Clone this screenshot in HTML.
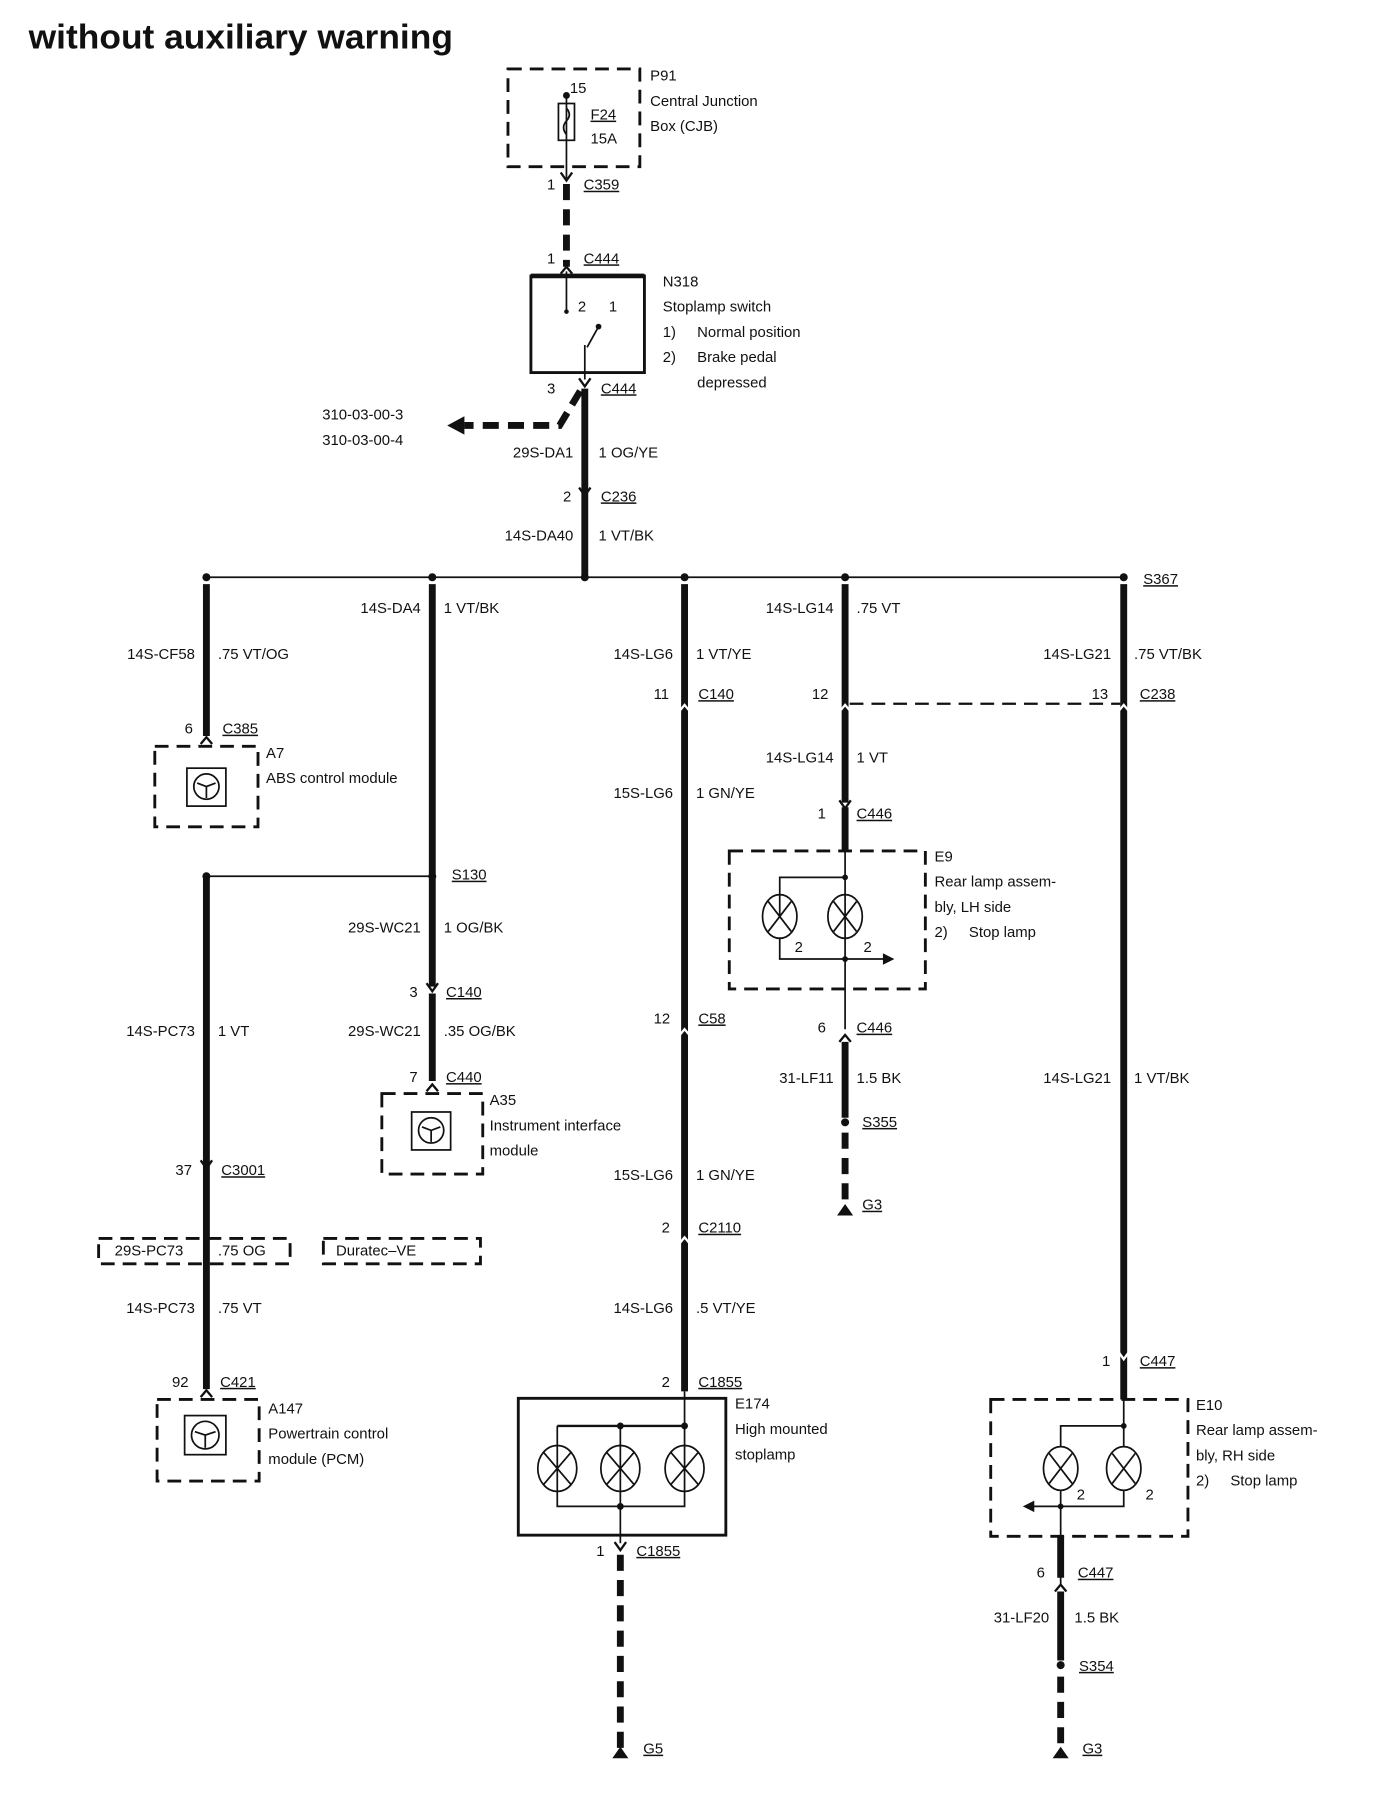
<!DOCTYPE html>
<html><head><meta charset="utf-8"><style>
html,body{margin:0;padding:0;background:#fff}
svg{display:block}
text{font-family:"Liberation Sans",sans-serif;font-size:13px;fill:#111}
.u{text-decoration:underline}
.r{text-anchor:end}
.th{stroke:#111;stroke-width:6;fill:none}
.td{stroke:#111;stroke-width:6;fill:none;stroke-dasharray:14 8}
.tn{stroke:#111;stroke-width:1.5;fill:none}
.bx{stroke:#111;stroke-width:2.5;fill:none;stroke-dasharray:12 7}
.sb{stroke:#111;stroke-width:2.5;fill:none}
.cn{stroke:#111;stroke-width:2;fill:none}
</style></head><body>
<svg width="1376" height="1810" viewBox="0 0 1200 1574" preserveAspectRatio="none" xmlns="http://www.w3.org/2000/svg">
<text x="25" y="42" style="font-size:30px;font-weight:bold" textLength="370" lengthAdjust="spacingAndGlyphs">without auxiliary warning</text>

<!-- P91 -->
<rect x="443" y="60" width="115" height="85" class="bx"/>
<circle cx="494" cy="83" r="3" fill="#111"/>
<text x="497" y="81">15</text>
<line x1="494" y1="83" x2="494" y2="155" class="tn"/>
<rect x="487" y="90" width="14" height="32" class="tn" fill="#fff"/>
<path d="M494 94 q5 6 0 11 q-5 6 0 12" class="tn"/>
<text x="515" y="104" class="u">F24</text><text x="515" y="125">15A</text>
<text x="567" y="70">P91</text><text x="567" y="92">Central Junction</text><text x="567" y="114">Box (CJB)</text>
<path d="M489 150 L494 157 L499 150" class="cn"/>
<text x="477" y="165">1</text><text x="509" y="165" class="u">C359</text>
<line x1="494" y1="160" x2="494" y2="232" class="td"/>
<path d="M489 238 L494 232 L499 238" class="cn"/>
<text x="477" y="229">1</text><text x="509" y="229" class="u">C444</text>

<!-- N318 -->
<rect x="463" y="240" width="99" height="84" class="sb"/>
<line x1="463" y1="240" x2="562" y2="240" stroke="#111" stroke-width="4"/>
<line x1="494" y1="236" x2="494" y2="270" class="tn"/>
<circle cx="494" cy="271" r="2" fill="#111"/>
<text x="504" y="271">2</text><text x="531" y="271">1</text>
<circle cx="522" cy="284" r="2.5" fill="#111"/>
<line x1="522" y1="284" x2="512" y2="302" class="tn"/>
<line x1="510" y1="300" x2="510" y2="330" class="tn"/>
<text x="578" y="249">N318</text><text x="578" y="271">Stoplamp switch</text>
<text x="578" y="293">1)</text><text x="608" y="293">Normal position</text>
<text x="578" y="315">2)</text><text x="608" y="315">Brake pedal</text><text x="608" y="337">depressed</text>
<path d="M505 329 L510 336 L515 329" class="cn"/>
<text x="477" y="342">3</text><text x="524" y="342" class="u">C444</text>
<line x1="510" y1="338" x2="510" y2="500" class="th"/>
<path d="M506 340 L488 370 L405 370" class="td"/>
<path d="M390 370 L405 362 L405 378 Z" fill="#111"/>
<text x="281" y="365">310-03-00-3</text><text x="281" y="387">310-03-00-4</text>
<text x="500" y="398" class="r">29S-DA1</text><text x="522" y="398">1 OG/YE</text>
<path d="M505 424 L510 431 L515 424" class="cn"/>
<text x="491" y="436">2</text><text x="524" y="436" class="u">C236</text>
<text x="500" y="470" class="r">14S-DA40</text><text x="522" y="470">1 VT/BK</text>

<!-- bus -->
<line x1="180" y1="502" x2="980" y2="502" class="tn"/>
<g fill="#111"><circle cx="180" cy="502" r="3.5"/><circle cx="377" cy="502" r="3.5"/><circle cx="510" cy="502" r="3.5"/><circle cx="597" cy="502" r="3.5"/><circle cx="737" cy="502" r="3.5"/><circle cx="980" cy="502" r="3.5"/></g>
<text x="997" y="508" class="u">S367</text>

<!-- col 180 top -->
<line x1="180" y1="508" x2="180" y2="640" class="th"/>
<text x="170" y="573" class="r">14S-CF58</text><text x="190" y="573">.75 VT/OG</text>
<text x="161" y="638">6</text><text x="194" y="638" class="u">C385</text>
<path d="M175 647 L180 641 L185 647" class="cn"/>
<rect x="135" y="649" width="90" height="70" class="bx"/>
<rect x="163" y="668" width="34" height="33" class="tn"/>
<circle cx="180" cy="684" r="11" class="tn"/><path d="M172 681 L180 684 L188 681 M180 684 L180 694" class="tn"/>
<text x="232" y="659">A7</text><text x="232" y="681">ABS control module</text>

<!-- col 377 -->
<line x1="377" y1="508" x2="377" y2="760" class="th"/>
<text x="367" y="533" class="r">14S-DA4</text><text x="387" y="533">1 VT/BK</text>
<circle cx="377" cy="762" r="3.5" fill="#111"/><circle cx="180" cy="762" r="3.5" fill="#111"/>
<line x1="180" y1="762" x2="377" y2="762" class="tn"/>
<text x="394" y="765" class="u">S130</text>
<line x1="377" y1="764" x2="377" y2="858" class="th"/>
<text x="367" y="811" class="r">29S-WC21</text><text x="387" y="811">1 OG/BK</text>
<path d="M372 855 L377 862 L382 855" class="cn"/>
<text x="357" y="867">3</text><text x="389" y="867" class="u">C140</text>
<line x1="377" y1="864" x2="377" y2="940" class="th"/>
<text x="367" y="901" class="r">29S-WC21</text><text x="387" y="901">.35 OG/BK</text>
<text x="357" y="941">7</text><text x="389" y="941" class="u">C440</text>
<path d="M372 949 L377 943 L382 949" class="cn"/>
<rect x="333" y="951" width="88" height="70" class="bx"/>
<rect x="359" y="967" width="34" height="33" class="tn"/>
<circle cx="376" cy="983" r="11" class="tn"/><path d="M368 980 L376 983 L384 980 M376 983 L376 993" class="tn"/>
<text x="427" y="961">A35</text><text x="427" y="983">Instrument interface</text><text x="427" y="1005">module</text>

<!-- col 180 lower -->
<line x1="180" y1="764" x2="180" y2="1208" class="th"/>
<text x="170" y="901" class="r">14S-PC73</text><text x="190" y="901">1 VT</text>
<path d="M175 1009 L180 1016 L185 1009" class="cn"/>
<text x="153" y="1022">37</text><text x="193" y="1022" class="u">C3001</text>
<rect x="86" y="1077" width="167" height="22" class="bx" stroke-width="2"/>
<text x="100" y="1092">29S-PC73</text><text x="190" y="1092">.75 OG</text>
<rect x="282" y="1077" width="137" height="22" class="bx" stroke-width="2"/>
<text x="293" y="1092">Duratec–VE</text>
<text x="170" y="1142" class="r">14S-PC73</text><text x="190" y="1142">.75 VT</text>
<text x="150" y="1206">92</text><text x="192" y="1206" class="u">C421</text>
<path d="M175 1215 L180 1209 L185 1215" class="cn"/>
<rect x="137" y="1217" width="89" height="71" class="bx"/>
<rect x="161" y="1231" width="36" height="34" class="tn"/>
<circle cx="179" cy="1248" r="12" class="tn"/><path d="M170 1245 L179 1248 L188 1245 M179 1248 L179 1259" class="tn"/>
<text x="234" y="1229">A147</text><text x="234" y="1251">Powertrain control</text><text x="234" y="1273">module (PCM)</text>

<!-- col 597 -->
<line x1="597" y1="508" x2="597" y2="1210" class="th"/>
<text x="587" y="573" class="r">14S-LG6</text><text x="607" y="573">1 VT/YE</text>
<text x="570" y="608">11</text><text x="609" y="608" class="u">C140</text>
<path d="M592 619 L597 613 L602 619" stroke="#fff" stroke-width="2" fill="none"/>
<text x="587" y="694" class="r">15S-LG6</text><text x="607" y="694">1 GN/YE</text>
<text x="570" y="890">12</text><text x="609" y="890" class="u">C58</text>
<path d="M592 901 L597 895 L602 901" stroke="#fff" stroke-width="2" fill="none"/>
<text x="587" y="1026" class="r">15S-LG6</text><text x="607" y="1026">1 GN/YE</text>
<text x="577" y="1072">2</text><text x="609" y="1072" class="u">C2110</text>
<path d="M592 1082 L597 1076 L602 1082" stroke="#fff" stroke-width="2" fill="none"/>
<text x="587" y="1142" class="r">14S-LG6</text><text x="607" y="1142">.5 VT/YE</text>
<text x="577" y="1206">2</text><text x="609" y="1206" class="u">C1855</text>
<rect x="452" y="1216" width="181" height="119" class="sb"/>
<line x1="597" y1="1210" x2="597" y2="1240" class="tn"/>
<path d="M486 1240 L597 1240" stroke="#111" stroke-width="2"/>
<path d="M486 1240 V1310 H597 V1240 M541 1240 V1310" class="tn"/>
<g fill="#fff" class="tn">
<ellipse cx="486" cy="1277" rx="17" ry="20"/><ellipse cx="541" cy="1277" rx="17" ry="20"/><ellipse cx="597" cy="1277" rx="17" ry="20"/></g>
<path d="M474 1263 L498 1291 M498 1263 L474 1291 M529 1263 L553 1291 M553 1263 L529 1291 M585 1263 L609 1291 M609 1263 L585 1291" class="tn"/>
<g fill="#111"><circle cx="541" cy="1240" r="3"/><circle cx="597" cy="1240" r="3"/><circle cx="541" cy="1310" r="3"/></g>
<line x1="541" y1="1310" x2="541" y2="1342" class="tn"/>
<text x="641" y="1225">E174</text><text x="641" y="1247">High mounted</text><text x="641" y="1269">stoplamp</text>
<path d="M536 1341 L541 1348 L546 1341" class="cn"/>
<text x="520" y="1353">1</text><text x="555" y="1353" class="u">C1855</text>
<line x1="541" y1="1352" x2="541" y2="1522" class="td"/>
<path d="M534 1529 L548 1529 L541 1519 Z" fill="#111"/>
<text x="561" y="1525" class="u">G5</text>

<!-- col 737 -->
<line x1="737" y1="508" x2="737" y2="698" class="th"/>
<text x="727" y="533" class="r">14S-LG14</text><text x="747" y="533">.75 VT</text>
<text x="708" y="608">12</text>
<path d="M732 619 L737 613 L742 619" stroke="#fff" stroke-width="2" fill="none"/>
<line x1="741" y1="612" x2="977" y2="612" stroke="#111" stroke-width="2" stroke-dasharray="12 7"/>
<text x="952" y="608">13</text><text x="994" y="608" class="u">C238</text>
<text x="727" y="663" class="r">14S-LG14</text><text x="747" y="663">1 VT</text>
<path d="M732 696 L737 703 L742 696" class="cn"/>
<text x="713" y="712">1</text><text x="747" y="712" class="u">C446</text>
<line x1="737" y1="702" x2="737" y2="740" class="th"/>
<rect x="636" y="740" width="171" height="120" class="bx"/>
<path d="M737 740 V895 M737 763 H680 V797 M680 815 V834 H772" class="tn"/>
<path d="M780 834 L770 829 L770 839 Z" fill="#111"/>
<g fill="#fff" class="tn"><ellipse cx="680" cy="797" rx="15" ry="19"/><ellipse cx="737" cy="797" rx="15" ry="19"/></g>
<path d="M670 784 L690 810 M690 784 L670 810 M727 784 L747 810 M747 784 L727 810" class="tn"/>
<g fill="#111"><circle cx="737" cy="763" r="2.5"/><circle cx="737" cy="834" r="2.5"/></g>
<text x="693" y="828">2</text><text x="753" y="828">2</text>
<text x="815" y="749">E9</text><text x="815" y="771">Rear lamp assem-</text><text x="815" y="793">bly, LH side</text>
<text x="815" y="815">2)</text><text x="845" y="815">Stop lamp</text>
<path d="M732 906 L737 900 L742 906" class="cn"/>
<text x="713" y="898">6</text><text x="747" y="898" class="u">C446</text>
<line x1="737" y1="906" x2="737" y2="972" class="th"/>
<text x="727" y="942" class="r">31-LF11</text><text x="747" y="942">1.5 BK</text>
<circle cx="737" cy="976" r="3.5" fill="#111"/>
<text x="752" y="980" class="u">S355</text>
<line x1="737" y1="985" x2="737" y2="1050" class="td"/>
<path d="M730 1057 L744 1057 L737 1047 Z" fill="#111"/>
<text x="752" y="1052" class="u">G3</text>

<!-- col 980 -->
<line x1="980" y1="508" x2="980" y2="1217" class="th"/>
<text x="969" y="573" class="r">14S-LG21</text><text x="989" y="573">.75 VT/BK</text>
<path d="M975 619 L980 613 L985 619" stroke="#fff" stroke-width="2" fill="none"/>
<text x="969" y="942" class="r">14S-LG21</text><text x="989" y="942">1 VT/BK</text>
<path d="M975 1175 L980 1182 L985 1175" stroke="#fff" stroke-width="2" fill="none"/>
<text x="961" y="1188">1</text><text x="994" y="1188" class="u">C447</text>
<rect x="864" y="1217" width="172" height="119" class="bx"/>
<path d="M980 1217 V1258 M980 1296 V1310 H900 M980 1240 H925 V1258 M925 1296 V1378" class="tn"/>
<path d="M892 1310 L902 1305 L902 1315 Z" fill="#111"/>
<g fill="#fff" class="tn"><ellipse cx="925" cy="1277" rx="15" ry="19"/><ellipse cx="980" cy="1277" rx="15" ry="19"/></g>
<path d="M915 1264 L935 1290 M935 1264 L915 1290 M970 1264 L990 1290 M990 1264 L970 1290" class="tn"/>
<g fill="#111"><circle cx="980" cy="1240" r="2.5"/><circle cx="925" cy="1310" r="2.5"/></g>
<text x="939" y="1304">2</text><text x="999" y="1304">2</text>
<text x="1043" y="1226">E10</text><text x="1043" y="1248">Rear lamp assem-</text><text x="1043" y="1270">bly, RH side</text>
<text x="1043" y="1292">2)</text><text x="1073" y="1292">Stop lamp</text>
<line x1="925" y1="1336" x2="925" y2="1372" class="th"/>
<text x="904" y="1372">6</text><text x="940" y="1372" class="u">C447</text>
<path d="M920 1384 L925 1378 L930 1384" class="cn"/>
<line x1="925" y1="1384" x2="925" y2="1444" class="th"/>
<text x="915" y="1411" class="r">31-LF20</text><text x="937" y="1411">1.5 BK</text>
<circle cx="925" cy="1448" r="3.5" fill="#111"/>
<text x="941" y="1453" class="u">S354</text>
<line x1="925" y1="1458" x2="925" y2="1522" class="td"/>
<path d="M918 1529 L932 1529 L925 1519 Z" fill="#111"/>
<text x="944" y="1525" class="u">G3</text>
</svg>
</body></html>
